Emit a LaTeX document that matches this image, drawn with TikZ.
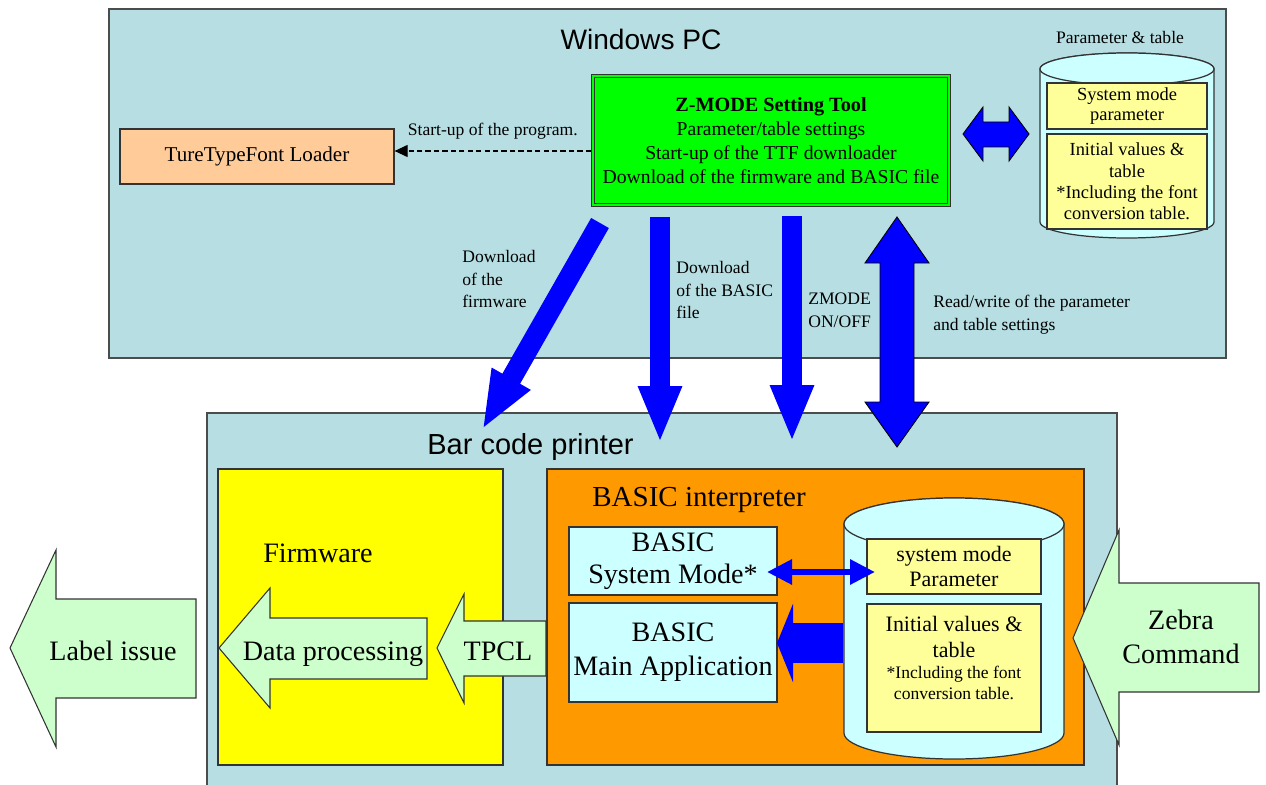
\documentclass[tikz,border=0pt]{standalone}
\usepackage{fontspec}
\setmainfont{Liberation Serif}
\setsansfont{Liberation Sans}
\usetikzlibrary{arrows.meta,fit,positioning}

\definecolor{panelblue}{RGB}{183,223,227}
\definecolor{peach}{RGB}{255,204,153}
\definecolor{toolgreen}{RGB}{0,255,0}
\definecolor{paleyellow}{RGB}{255,255,153}
\definecolor{palecyan}{RGB}{204,255,255}
\definecolor{fwyellow}{RGB}{255,255,0}
\definecolor{interporange}{RGB}{255,153,0}
\definecolor{palegreen}{RGB}{204,255,204}
\definecolor{arrowblue}{RGB}{0,0,255}

\begin{document}
\begin{tikzpicture}[
		x=0.2mm, y=-0.2mm,% pixel grid, y going down
		panel/.style = {draw=black!70, line width=0.6pt, fill=panelblue, inner sep=0pt},
		box/.style = {draw=black!80, line width=0.7pt, inner sep=0pt},
		txt/.style = {inner sep=0pt, align=center},
		cyl/.style = {draw=black!80, line width=0.7pt, fill=palecyan},
		lbl/.style = {inner sep=0pt, align=left, font=\fontsize{10}{12.8}\selectfont},
		bigtxt/.style = {inner sep=0pt, font=\fontsize{16}{19}\selectfont},
		bluearrow/.style = {draw=arrowblue, line width=11.6pt,
			-{Triangle[length=11.4mm, width=8mm]}},
		fatarrow/.style = {draw=black, line width=0.5pt, fill=arrowblue},
		blockarrow/.style = {draw=black!80, line width=0.6pt, fill=palegreen},
		]
		\useasboundingbox (0,0) rectangle (1266,785);

		% Windows PC
		\node[panel, fit={(109,9) (1226,358)}] (pc) {};
		\node[anchor=base, inner sep=0pt, font=\sffamily\fontsize{16}{19}\selectfont] (pctitle) at (641,50) {Windows PC};
		\node[box, fill=peach, fit={(120,129) (394,184)}] (ttf) {};
		\node[txt, font=\fontsize{12}{14}\selectfont] (ttftxt) at (ttf.center) {TureTypeFont Loader};
		\node[box, fill=toolgreen, double=toolgreen, double distance=0.5mm, line width=0.6pt,
			fit={(593,76) (949,205)}] (tool) {};
		\node[txt, font=\fontsize{11.2}{13.6}\selectfont] (tooltxt) at (tool.center)
			{{\bfseries\fontsize{11.5}{13.6}\selectfont Z-MODE Setting Tool}\\Parameter/table settings\\
				Start-up of the TTF downloader\\Download of the firmware and BASIC file};
		\coordinate (su) at (591,151);
		\draw[dash pattern=on 3pt off 1.8pt, line width=0.6pt, -{Triangle[length=2.6mm, width=2.4mm]}]
			(su) -- (su -| ttf.east)
			node[midway, above=2.3mm, inner sep=0pt, font=\fontsize{10}{12}\selectfont] (sulbl) {Start-up of the program.};

		% parameter & table store
		\node[anchor=base, inner sep=0pt, font=\fontsize{10}{12}\selectfont] (ptlbl) at (1120,44) {Parameter \& table};
		\path[cyl] (1040,69) -- (1040,222) arc (180:0:87 and 16) -- (1214,69) arc (0:-180:87 and 16) -- cycle;
		\draw[cyl] (1127,69) ellipse (87 and 16);
		\node[box, fill=paleyellow, fit={(1047,83) (1207,129)}] (smp) {};
		\node[txt, font=\fontsize{10.5}{11.3}\selectfont] (smptxt) at (smp.center) {System mode\\parameter};
		\node[box, fill=paleyellow, fit={(1047,134) (1207,229)}] (ivt) {};
		\node[txt, font=\fontsize{10.5}{12.2}\selectfont] (ivttxt) at (ivt.center)
			{Initial values \&\\table\\{*}Including the font\\conversion table.};
		\draw[fatarrow] (963,134) -- (983,107) -- (983,122) -- (1009,122) -- (1009,107) -- (1029,134)
			-- (1009,161) -- (1009,147) -- (983,147) -- (983,161) -- cycle;

		% Bar code printer
		\node[panel, fit={(207,413) (1117,795)}] (bcp) {};
		\node[anchor=base west, inner sep=0pt, font=\sffamily\fontsize{16.5}{20}\selectfont] (bctitle) at (427,454) {Bar code printer};

		% downloads and settings
		\coordinate (fw1) at (600,223);
		\coordinate (fw2) at (482,430);
		\coordinate (bs1) at (660,217);
		\coordinate (bs2) at (660,443);
		\coordinate (zm1) at (792,216);
		\coordinate (zm2) at (792,442);
		\draw[bluearrow, -{Triangle[length=11.8mm, width=8mm]}] (fw1) -- (fw2);
		\draw[bluearrow] (bs1) -- (bs2);
		\draw[bluearrow] (zm1) -- (zm2);
		\draw[fatarrow] (897,217) -- (929,263) -- (914,263) -- (914,402) -- (929,402) -- (897,447)
			-- (865,402) -- (880,402) -- (880,263) -- (865,263) -- cycle;
		\node[lbl, anchor=north west] (fwlbl) at (462,250) {Download\\of the\\firmware};
		\node[lbl, anchor=north west] (bslbl) at (676,261) {Download\\of the BASIC\\file};
		\node[lbl, anchor=north west] (zmlbl) at (808,293) {ZMODE\\ON/OFF};
		\node[lbl, anchor=north west] (rwlbl) at (933,295) {Read/write of the parameter\\and table settings};

		% label output
		\draw[blockarrow] (10,648) -- (56,550) -- (56,599) -- (196,599) -- (196,698) -- (56,698) -- (56,747) -- cycle;
		\node[bigtxt, anchor=base] (issue) at (113,660) {Label issue};

		% firmware
		\node[box, fill=fwyellow, fit={(218,469) (503,765)}] (fw) {};
		\node[bigtxt, anchor=base west] (fwtitle) at (263,562) {Firmware};
		\draw[blockarrow] (219,648) -- (270,588) -- (270,618) -- (427,618) -- (427,679) -- (270,679) -- (270,708) -- cycle;
		\node[bigtxt, anchor=base] (dp) at (333,660) {Data processing};
		\draw[blockarrow] (437,648) -- (464,594) -- (464,621) -- (546,621) -- (546,676) -- (464,676) -- (464,703) -- cycle;
		\node[bigtxt, anchor=base] (tpcl) at (498,660) {TPCL};

		% BASIC interpreter
		\node[box, fill=interporange, fit={(547,469) (1084,765)}] (bi) {};
		\node[bigtxt, anchor=base west, font=\fontsize{16.5}{19}\selectfont] (bititle) at (592,506) {BASIC interpreter};
		\node[box, fill=palecyan, fit={(569,527) (777,595)}] (sysm) {};
		\node[txt, font=\fontsize{16}{18.2}\selectfont] (sysmtxt) at (sysm.center) {BASIC\\System Mode*};
		\node[box, fill=palecyan, fit={(569,603) (777,702)}] (mainapp) {};
		\node[txt, font=\fontsize{16}{19.3}\selectfont] (mainapptxt) at (mainapp.center) {BASIC\\Main Application};
		\path[cyl] (844,524) -- (844,733) arc (180:0:110 and 26) -- (1064,524) arc (0:-180:110 and 26) -- cycle;
		\draw[cyl] (954,524) ellipse (110 and 26);
		\node[box, fill=paleyellow, fit={(867,539) (1041,594)}] (smp2) {};
		\node[txt, font=\fontsize{12.5}{14.7}\selectfont] (smp2txt) at (smp2.center) {system mode\\Parameter};
		\node[box, fill=paleyellow, fit={(867,604) (1041,732)}] (ivt2) {};
		\node[txt, anchor=north, font=\fontsize{12.5}{14.7}\selectfont] (ivtxt) at (954,616) {Initial values \&\\table};
		\node[txt, anchor=north, font=\fontsize{10}{11.9}\selectfont] (inctxt) at (954,666) {*Including the font\\conversion table.};
		\coordinate (sm1) at (767,572);
		\coordinate (sm2) at (875,572);
		\draw[draw=arrowblue, line width=3.4pt, {Triangle[length=5mm, width=4.8mm]}-{Triangle[length=5mm, width=4.8mm]}] (sm1) -- (sm2);
		\coordinate (fa1) at (843,643);
		\coordinate (fa2) at (777,643);
		\draw[draw=arrowblue, line width=22.7pt, -{Triangle[length=3.2mm, width=15.6mm]}] (fa1) -- (fa2);

		% Zebra input
		\draw[blockarrow] (1073,638) -- (1119,530) -- (1119,583) -- (1259,583) -- (1259,692) -- (1119,692) -- (1119,745) -- cycle;
		\node[bigtxt, align=center, font=\fontsize{16}{19.3}\selectfont] (zebra) at (1181,637) {Zebra\\Command};
	\end{tikzpicture}
\end{document}
